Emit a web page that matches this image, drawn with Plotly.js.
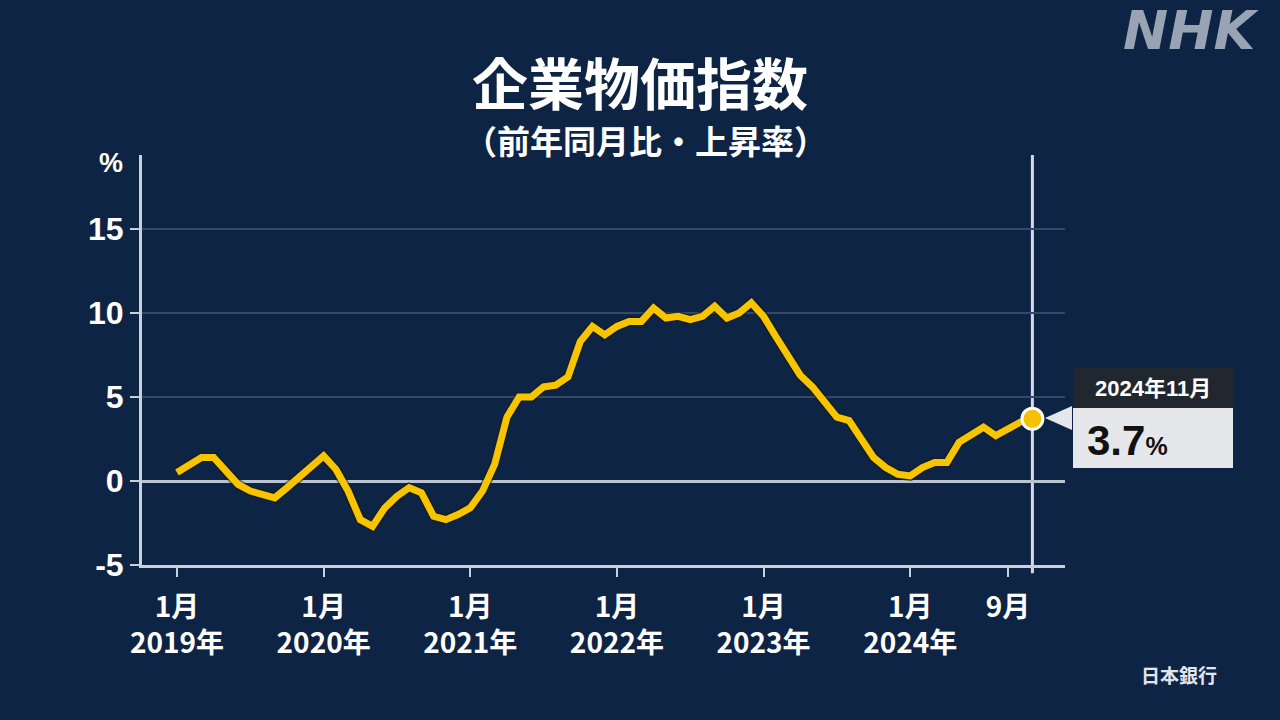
<!DOCTYPE html>
<html>
<head>
<meta charset="utf-8">
<script src="https://cdn.plot.ly/plotly-3.0.1.min.js"></script>
<style>
  html, body { margin: 0; padding: 0; background: #0e2444; }
  #chart { width: 1280px; height: 720px; }
</style>
</head>
<body>
<div id="chart"></div>
<script>
// Monthly YoY change (%), Jan 2019 – Nov 2024
const y2019 = [0.5, 0.9, 1.4, 1.4, 0.6, -0.2, -0.6, -0.8, -1.0, -0.4, 0.2, 0.9];
const y2020 = [1.5, 0.7, -0.6, -2.3, -2.7, -1.6, -0.9, -0.4, -0.7, -2.1, -2.3, -2.0];
const y2021 = [-1.6, -0.6, 1.0, 3.8, 5.0, 5.0, 5.6, 5.7, 6.2, 8.3, 9.2, 8.7];
const y2022 = [9.2, 9.5, 9.5, 10.3, 9.7, 9.8, 9.6, 9.8, 10.4, 9.7, 10.0, 10.6];
const y2023 = [9.8, 8.6, 7.5, 6.3, 5.6, 4.7, 3.8, 3.6, 2.4, 1.4, 0.8, 0.4];
const y2024 = [0.3, 0.8, 1.1, 1.1, 2.3, 2.7, 3.2, 2.7, 3.1, 3.5, 3.7];

const tickIndex = [0, 12, 24, 36, 48, 60, 68];
const tickText = ["1月<br>2019年", "1月<br>2020年", "1月<br>2021年", "1月<br>2022年", "1月<br>2023年", "1月<br>2024年", "9月<br> "];
const yTicks = [-5, 0, 5, 10, 15];
const yTickText = ["-5", "0", "5", "10", "15"];

const lastLabel = "2024年11月";
const lastValue = "3.7";

const values = [].concat(y2019, y2020, y2021, y2022, y2023, y2024);
const idx = values.map((_, i) => i);
const lastI = idx[idx.length - 1];
const lastV = values[values.length - 1];

const CJK = "Noto Sans CJK JP, sans-serif";
const NUM = "Liberation Sans, Arial, Noto Sans CJK JP, sans-serif";

const traces = [
  { x: idx, y: values, type: "scatter", mode: "lines",
    line: { color: "#1a1a12", width: 10, shape: "linear" }, hoverinfo: "skip", opacity: 0.55 },
  { x: idx, y: values, type: "scatter", mode: "lines",
    line: { color: "#f6c500", width: 7, shape: "linear" } },
  { x: [lastI], y: [lastV], type: "scatter", mode: "markers",
    marker: { size: 21, color: "#f5c000", line: { color: "#ffffff", width: 3 } } }
];

const L = 142, R = 215, T = 155, B = 155;
const PW = 1280 - L - R, PH = 720 - T - B;
const px = v => (v - L) / PW;
const py = v => (720 - B - v) / PH;

const layout = {
  width: 1280, height: 720,
  paper_bgcolor: "#0e2444", plot_bgcolor: "#0e2444",
  margin: { l: L, r: R, t: T, b: B },
  showlegend: false,
  title: { text: "<b>企業物価指数</b>", x: 0.5, xanchor: "center", y: 1 - 85/720, yanchor: "middle",
    font: { family: CJK, size: 56, color: "#ffffff" } },
  xaxis: {
    range: [-(177 - L) / 12.22, -(177 - L) / 12.22 + PW / 12.22],
    tickmode: "array", tickvals: tickIndex, ticktext: tickText,
    showgrid: false, zeroline: false,
    showline: true, linecolor: "#c8d0dc", linewidth: 3,
    ticks: "outside", ticklen: 9, tickwidth: 2, tickcolor: "#c8d0dc",
    ticklabelstandoff: 6,
    tickfont: { family: CJK, size: 28, color: "#ffffff", weight: "bold" },
    fixedrange: true
  },
  yaxis: {
    range: [-5, -5 + PH / 16.8],
    tickmode: "array", tickvals: yTicks, ticktext: yTickText,
    showgrid: true, gridcolor: "#34496a", gridwidth: 2,
    zeroline: true, zerolinecolor: "#b9c3d1", zerolinewidth: 3,
    showline: true, linecolor: "#c8d0dc", linewidth: 3,
    ticks: "outside", ticklen: 9, tickwidth: 2, tickcolor: "#c8d0dc",
    tickfont: { family: NUM, size: 32, color: "#ffffff", weight: "bold" },
    fixedrange: true
  },
  shapes: [
    { type: "line", xref: "x", yref: "paper", x0: lastI, x1: lastI, y0: -0.02, y1: 1,
      line: { color: "#d3dae5", width: 3 }, layer: "below" },
    { type: "rect", xref: "paper", yref: "paper", x0: px(1073), x1: px(1233), y0: py(408), y1: py(368),
      fillcolor: "#21272f", line: { width: 0 } },
    { type: "rect", xref: "paper", yref: "paper", x0: px(1073), x1: px(1233), y0: py(468), y1: py(408),
      fillcolor: "#e6e7ea", line: { width: 0 } },
    { type: "path", xref: "paper", yref: "paper",
      path: `M ${px(1045)} ${py(418)} L ${px(1072)} ${py(406)} L ${px(1072)} ${py(430)} Z`,
      fillcolor: "#e6e7ea", line: { width: 0 } }
  ],
  annotations: [
    { text: "<b>（前年同月比・上昇率）</b>", xref: "paper", yref: "paper", x: px(645), y: py(140),
      xanchor: "center", yanchor: "middle", showarrow: false,
      font: { family: CJK, size: 33, color: "#ffffff" } },
    { text: "<b>%</b>", xref: "paper", yref: "paper", x: px(111), y: py(163),
      xanchor: "center", yanchor: "middle", showarrow: false,
      font: { family: NUM, size: 27, color: "#ffffff" } },
    { text: "<b><i>NHK</i></b>", xref: "paper", yref: "paper", x: px(1191), y: py(31),
      xanchor: "center", yanchor: "middle", showarrow: false,
      font: { family: "DejaVu Sans, sans-serif", size: 54, color: "#98a3b3" } },
    { text: "<b>日本銀行</b>", xref: "paper", yref: "paper", x: px(1179), y: py(674),
      xanchor: "center", yanchor: "middle", showarrow: false,
      font: { family: CJK, size: 19, color: "#e2e6ec" } },
    { text: "<b>" + lastLabel + "</b>", xref: "paper", yref: "paper", x: px(1153), y: py(388),
      xanchor: "center", yanchor: "middle", showarrow: false,
      font: { family: NUM, size: 22, color: "#ffffff" } },
    { text: "<b>" + lastValue + "</b><span style='font-size:25px'><b>%</b></span>", xref: "paper", yref: "paper",
      x: px(1085), y: py(440), xanchor: "left", yanchor: "middle", showarrow: false,
      font: { family: NUM, size: 42, color: "#111111" } }
  ]
};

Plotly.newPlot("chart", traces, layout, { staticPlot: true, displayModeBar: false });
</script>
</body>
</html>
